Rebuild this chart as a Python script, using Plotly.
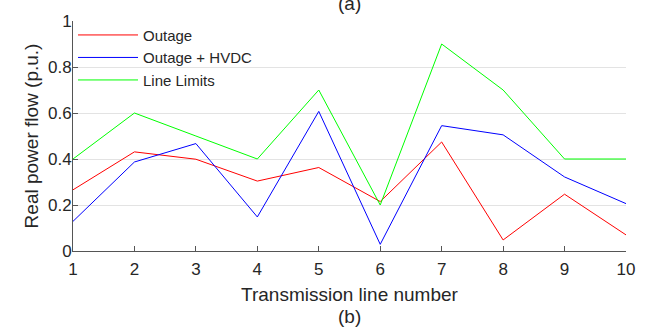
import plotly.graph_objects as go

lines = [1, 2, 3, 4, 5, 6, 7, 8, 9, 10]
outage = [0.266, 0.431, 0.399, 0.304, 0.363, 0.215, 0.474, 0.048, 0.247, 0.07]
outage_hvdc = [0.129, 0.387, 0.467, 0.148, 0.607, 0.029, 0.545, 0.505, 0.322, 0.206]
line_limits = [0.4, 0.6, 0.5, 0.4, 0.7, 0.2, 0.9, 0.7, 0.4, 0.4]

series = [
    ("Outage", outage, "#FF0000"),
    ("Outage + HVDC", outage_hvdc, "#0000FF"),
    ("Line Limits", line_limits, "#00FF00"),
]

fig = go.Figure()
for name, vals, col in series:
    fig.add_trace(go.Scatter(x=lines, y=vals, mode="lines", name=name,
                             line=dict(color=col, width=1)))

font_fam = "Liberation Sans, Arial, sans-serif"
txt = "#262626"
ax = "#555555"

fig.update_layout(
    width=651, height=329,
    margin=dict(l=73, r=25, t=16, b=78),
    paper_bgcolor="white", plot_bgcolor="white",
    font=dict(family=font_fam, color=txt, size=17),
    showlegend=True,
    legend=dict(x=0.0, y=1.01, xanchor="left", yanchor="top",
                bgcolor="rgba(0,0,0,0)", borderwidth=0,
                font=dict(size=15, color=txt),
                itemwidth=60, tracegroupgap=0),
    xaxis=dict(range=[1, 10], tickmode="array", tickvals=lines,
               ticks="inside", ticklen=5, tickcolor=ax,
               showline=True, linecolor=ax, linewidth=1,
               showgrid=False, zeroline=False,
               tickfont=dict(size=17, color=txt), ticklabelstandoff=3,
               title=dict(text="Transmission line number", font=dict(size=19, color=txt), standoff=9)),
    yaxis=dict(range=[0, 1], tickvals=[0, 0.2, 0.4, 0.6, 0.8, 1],
               ticktext=["0", "0.2", "0.4", "0.6", "0.8", "1"],
               ticks="inside", ticklen=5, tickcolor=ax,
               showline=True, linecolor=ax, linewidth=1,
               showgrid=True, gridcolor="#e3e3e3", gridwidth=1,
               zeroline=False,
               tickfont=dict(size=17, color=txt), ticklabelstandoff=-3,
               title=dict(text="Real power flow (p.u.)", font=dict(size=19, color=txt), standoff=4)),
    shapes=[
        dict(type="rect", xref="paper", yref="paper", x0=0.003, x1=0.344,
             y0=0.70, y1=0.98, fillcolor="white", line=dict(width=0),
             layer="between"),
    ],
    annotations=[
        dict(text="(a)", xref="paper", yref="paper", x=0.5, y=1.075,
             showarrow=False, font=dict(size=19, color=txt), yanchor="middle"),
        dict(text="(b)", xref="paper", yref="paper", x=0.5, y=-0.285,
             showarrow=False, font=dict(size=19, color=txt), yanchor="middle"),
    ],
)

fig.write_html("out.html")
